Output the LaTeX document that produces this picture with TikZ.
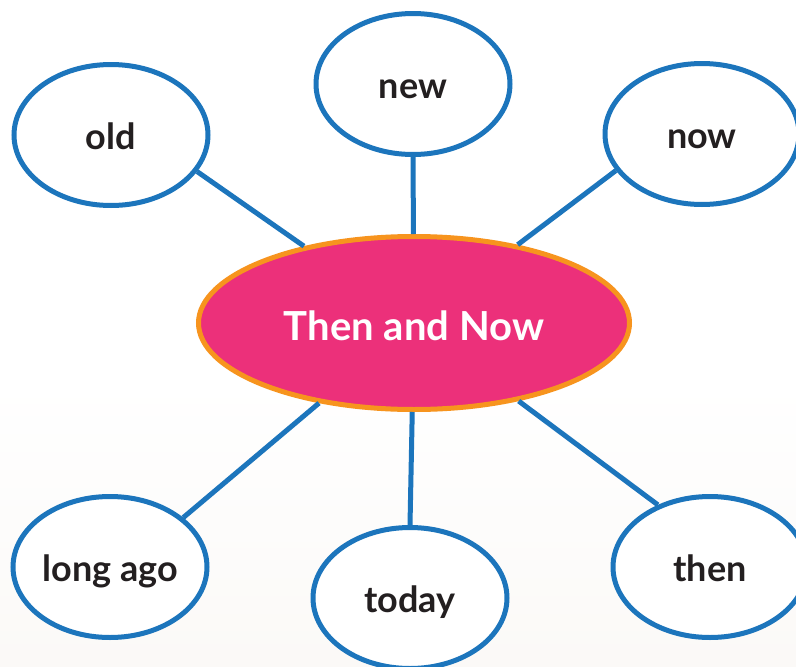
\documentclass[tikz,border=0pt]{standalone}
\usepackage{fontspec}
\setmainfont{Lato}
\usetikzlibrary{shapes.geometric}
\definecolor{bubbleblue}{HTML}{1C75BC}
\definecolor{hubpink}{HTML}{EC307A}
\definecolor{huborange}{HTML}{F7941E}
\definecolor{wordgray}{HTML}{231F20}
\tikzset{
  word/.style={ellipse,draw=bubbleblue,line width=5pt,fill=white,inner sep=0pt,
               minimum width=194pt,minimum height=141pt,
               text height=28pt,text depth=0pt,
               font=\bfseries\fontsize{36}{36}\selectfont,text=wordgray},
  hub/.style={ellipse,draw=huborange,line width=5pt,fill=hubpink,inner sep=0pt,
              minimum width=431pt,minimum height=173pt,
              text height=34pt,text depth=0pt,
              font=\bfseries\fontsize{40}{40}\selectfont,text=white},
  spoke/.style={draw=bubbleblue,line width=5pt}
}
\begin{document}
\begin{tikzpicture}[x=1pt,y=-1pt]
                    \shade[top color=white,bottom color={rgb,255:red,251;green,249;blue,247}] (0,380) rectangle (796,667);
                    \useasboundingbox (0,0) rectangle (796,667);

                    \node[hub]  (c)     at (414,323) {Then and Now};

                    \node[word] (old)   at (111,135) {old};
                    \node[word] (new)   at (413,84)  {new};
                    \node[word] (now)   at (702,134) {now};
                    \node[word] (ago)   at (110,567) {long ago};
                    \node[word] (today) at (410,598) {today};
                    \node[word] (then)  at (710,567) {then};

                    \draw[spoke] (c) -- (old.-23);
                    \draw[spoke] (c) -- (new.south);
                    \draw[spoke] (c) -- (now.-157);
                    \draw[spoke] (c) -- (ago.34);
                    \draw[spoke] (c) -- (today.north);
                    \draw[spoke] (c) -- (then.130);

                \end{tikzpicture}
\end{document}
